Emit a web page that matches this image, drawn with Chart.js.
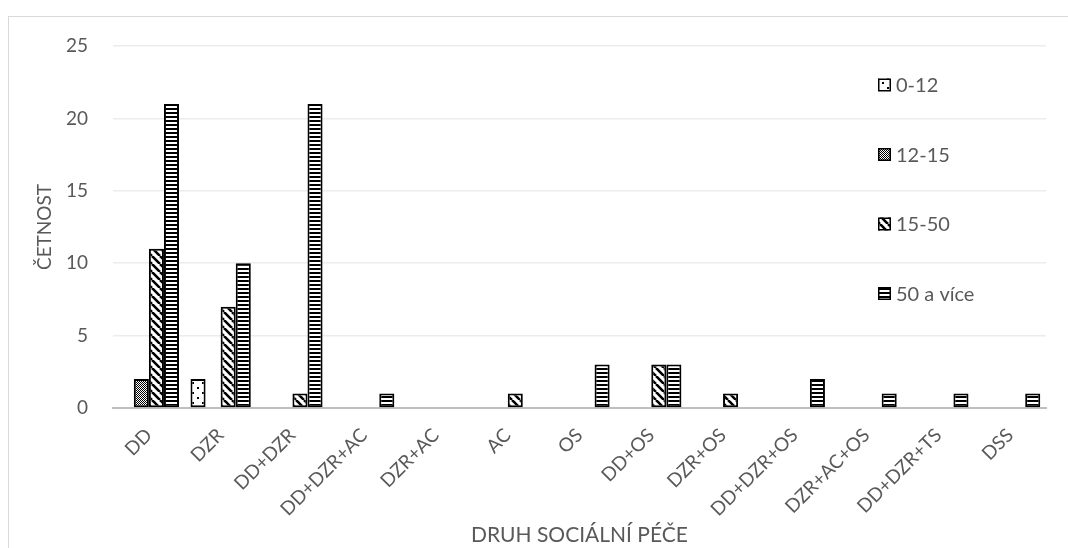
<!DOCTYPE html>
<html lang="cs">
<head>
<meta charset="UTF-8">
<title>Druh sociální péče · četnost</title>
<script src="https://cdn.jsdelivr.net/npm/chart.js@4"></script>
<style>
  html,body { margin:0; padding:0; background:#fff; overflow:hidden; }
  .wrap { position:relative; width:1068px; height:548px; }
  .frame { position:absolute; left:8px; top:16px; width:1200px; height:700px; border:1px solid #d9d9d9; pointer-events:none; }
  canvas { position:absolute; left:0; top:0; }
</style>
</head>
<body>
<div class="wrap">
  <div class="frame"></div>
  <canvas id="chart" width="1068" height="548"></canvas>
</div>
<script>
// data
const categories = ["DD","DZR","DD+DZR","DD+DZR+AC","DZR+AC","AC","OS","DD+OS","DZR+OS","DD+DZR+OS","DZR+AC+OS","DD+DZR+TS","DSS"];
const seriesNames = ["0-12","12-15","15-50","50 a více"];
const age0_12   = [0,2,0,0,0,0,0,0,0,0,0,0,0];
const age12_15  = [2,0,0,0,0,0,0,0,0,0,0,0,0];
const age15_50  = [11,7,1,0,0,1,0,3,1,0,0,0,0];
const age50plus = [21,10,21,1,0,0,3,3,0,2,1,1,1];
const yMax = 25, yStep = 5;
const yTitle = "ČETNOST", xTitle = "DRUH SOCIÁLNÍ PÉČE";

const FONT = "Lato, 'Open Sans', sans-serif";
const GREY = "#595959";

// hatch patterns like the Excel fills
function tile(w,h,draw){
  const c=document.createElement("canvas"); c.width=w; c.height=h;
  const g=c.getContext("2d"); g.fillStyle="#fff"; g.fillRect(0,0,w,h); g.fillStyle="#000"; g.strokeStyle="#000";
  draw(g);
  return document.getElementById("chart").getContext("2d").createPattern(c,"repeat");
}
const pats=[
  tile(10,10,g=>{ g.fillRect(2,2,2,2); g.fillRect(7,7,2,2); }),            // sparse dots
  tile(2,2,g=>{ g.fillRect(0,0,1,1); g.fillRect(1,1,1,1); }),              // small checker
  tile(8,8,g=>{ g.lineWidth=2.6; g.beginPath();
    for(let k=-8;k<=16;k+=8){ g.moveTo(k,0); g.lineTo(k+8,8); } g.stroke(); }), // wide down-diagonal
  tile(4,4,g=>{ g.fillRect(0,0,4,2); })                                    // horizontal stripes
];

const values=[age0_12,age12_15,age15_50,age50plus];

const legendInPlot={
  id:"legendInPlot",
  afterDraw(chart){
    const ctx=chart.ctx;
    ctx.save();
    chart.data.datasets.forEach((ds,i)=>{
      const y=85+i*69.5, x=878;
      ctx.fillStyle=ds.backgroundColor; ctx.fillRect(x,y-6.5,13,13);
      ctx.lineWidth=1.5; ctx.strokeStyle="#000"; ctx.strokeRect(x+0.75,y-5.75,11.5,11.5);
      ctx.fillStyle=GREY; ctx.font="20px "+FONT; ctx.textBaseline="middle"; ctx.textAlign="left";
      ctx.fillText(ds.label,x+18,y+1);
    });
    ctx.restore();
  }
};

new Chart(document.getElementById("chart"),{
  type:"bar",
  data:{
    labels:categories,
    datasets:seriesNames.map((n,i)=>({
      label:n, data:values[i], backgroundColor:pats[i],
      borderColor:"#000", borderWidth:2, borderSkipped:false,
      categoryPercentage:0.84, barPercentage:1
    }))
  },
  options:{
    responsive:false, animation:false, devicePixelRatio:1,
    layout:{padding:{top:46,right:22,left:0,bottom:0}},
    plugins:{legend:{display:false},tooltip:{enabled:false}},
    scales:{
      x:{
        grid:{display:false,drawTicks:false},
        border:{color:"#bfbfbf",width:2},
        ticks:{color:GREY,font:{family:FONT,size:19},maxRotation:45,minRotation:45,padding:16,autoSkip:false},
        title:{display:true,text:xTitle,color:GREY,font:{family:FONT,size:21},padding:{top:0,bottom:0}},
        afterFit(s){ s.height=140; }
      },
      y:{
        min:0,max:yMax,
        grid:{color:"#ececec",lineWidth:1.5,drawTicks:false},
        border:{display:false},
        ticks:{stepSize:yStep,color:GREY,font:{family:FONT,size:19},padding:25},
        title:{display:true,text:yTitle,color:GREY,font:{family:FONT,size:19},padding:{top:33,bottom:0}},
        afterFit(s){ s.width=113; }
      }
    }
  }
  ,plugins:[legendInPlot]
});
</script>
</body>
</html>
